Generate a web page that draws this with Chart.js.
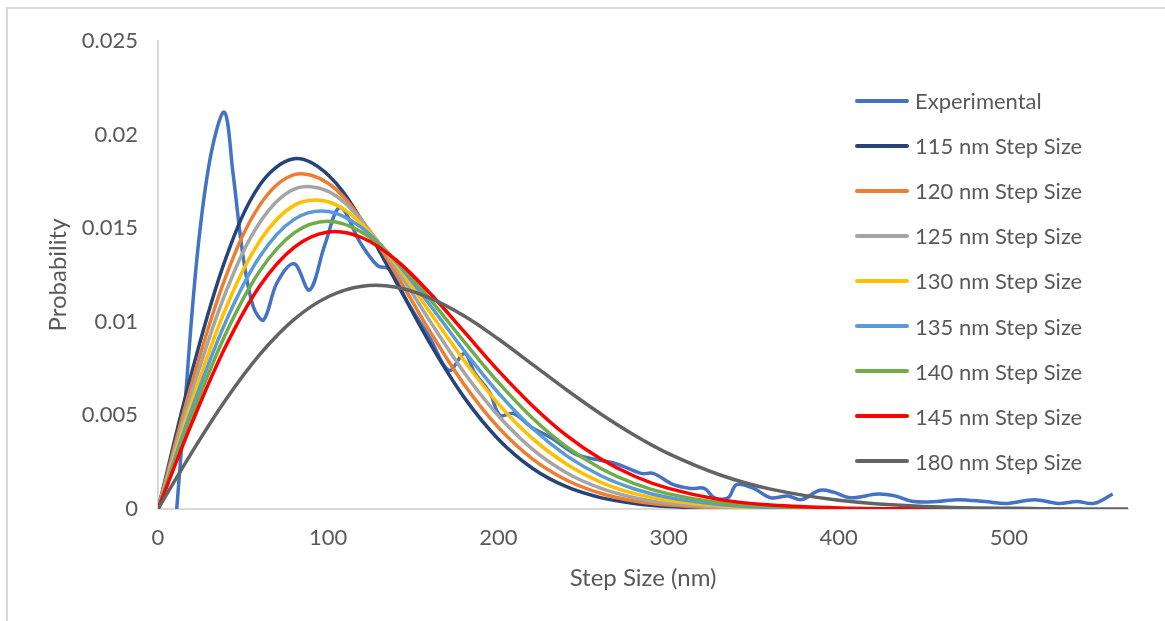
<!DOCTYPE html>
<html>
<head>
<meta charset="utf-8">
<title>Step Size Distribution</title>
<script src="https://cdn.jsdelivr.net/npm/chart.js@4.4.1/dist/chart.umd.min.js"></script>
<style>
    body { margin: 0; background: #fff; }
    #wrap { position: relative; width: 1165px; height: 621px; overflow: hidden; font-family: Lato, "Open Sans", sans-serif; }
    #frame { position: absolute; left: 6px; top: 7px; width: 1300px; height: 800px; border-left: 2px solid #d9d9d9; border-top: 2px solid #d9d9d9; }
    #chart { position: absolute; left: 0; top: 0; }
    #legend { position: absolute; left: 855px; top: 78px; }
    .item { height: 45.1px; display: flex; align-items: center; color: #595959; font-size: 22px; white-space: nowrap; }
    .swatch { width: 54px; height: 4px; margin-right: 6px; border-radius: 2px; }
</style>
</head>
<body>
<div id="wrap">
    <div id="frame"></div>
    <canvas id="chart" width="1165" height="621"></canvas>
    <div id="legend"></div>
</div>
<script>
// Experimental step-size histogram (smoothed)
const expX = [11, 15, 23, 31, 39, 44, 50, 56, 62, 70, 80, 89, 98, 107, 119, 129, 136, 147, 160, 171,
              180, 186, 195, 201, 209, 219, 231, 246, 260, 270, 284, 291, 303, 313, 321, 327, 335, 340, 350, 360,
              370, 378, 389, 397, 407, 423, 433, 444, 458, 470, 486, 499, 515, 529, 540, 550, 561];
const expY = [0, 0.0046, 0.0135, 0.0189, 0.0212, 0.0180, 0.0135, 0.0108, 0.0101, 0.0121,
              0.0131, 0.0117, 0.0141, 0.0161, 0.0142, 0.0130, 0.0128, 0.0110, 0.0091, 0.0074,
              0.0083, 0.0073, 0.0062, 0.0050, 0.0051, 0.0044, 0.0038, 0.0029, 0.0026, 0.0024,
              0.0019, 0.0019, 0.0013, 0.0011, 0.0011, 0.0006, 0.0006, 0.0013, 0.0011, 0.0006,
              0.0007, 0.0005, 0.0010, 0.0009, 0.0006, 0.0008, 0.0007, 0.0004, 0.0004, 0.0005,
              0.0004, 0.0003, 0.0005, 0.0003, 0.0004, 0.0003, 0.0008];

// Simulated curves, sampled on a shared step-size grid
const fitX = [0, 20, 40, 60, 80, 100, 120, 140, 160, 180, 200, 220, 240, 260, 280, 300, 330, 360, 400, 450, 520, 570];
const s115 = [0, 0.00735, 0.01343, 0.01733, 0.01871, 0.01784, 0.01537, 0.01212, 0.00882, 0.00595, 0.00373, 0.00218, 0.00119, 0.00061, 0.00029, 0.00013, 0.00003, 0.00001, 0, 0, 0];
const s120 = [0, 0.00676, 0.01245, 0.01626, 0.01786, 0.01740, 0.01540, 0.01254, 0.00946, 0.00664, 0.00436, 0.00268, 0.00155, 0.00084, 0.00043, 0.00021, 0.00006, 0.00002, 0, 0, 0];
const s125 = [0, 0.00627, 0.01162, 0.01533, 0.01709, 0.01697, 0.01536, 0.01285, 0.01001, 0.00728, 0.00498, 0.00320, 0.00194, 0.00111, 0.00060, 0.00030, 0.00010, 0.00003, 0.00001, 0, 0];
const s130 = [0, 0.00577, 0.01075, 0.01434, 0.01622, 0.01641, 0.01520, 0.01306, 0.01048, 0.00791, 0.00562, 0.00377, 0.00240, 0.00144, 0.00082, 0.00045, 0.00016, 0.00005, 0.00001, 0, 0];
const s135 = [0, 0.00536, 0.01004, 0.01351, 0.01547, 0.01589, 0.01500, 0.01319, 0.01087, 0.00844, 0.00620, 0.00431, 0.00285, 0.00179, 0.00107, 0.00061, 0.00024, 0.00008, 0.00002, 0, 0];
const s140 = [0, 0.00499, 0.00940, 0.01274, 0.01475, 0.01537, 0.01477, 0.01325, 0.01119, 0.00893, 0.00676, 0.00486, 0.00333, 0.00218, 0.00136, 0.00081, 0.00034, 0.00013, 0.00003, 0, 0];
const s145 = [0, 0.00461, 0.00873, 0.01194, 0.01398, 0.01480, 0.01449, 0.01329, 0.01151, 0.00946, 0.00739, 0.00552, 0.00393, 0.00268, 0.00175, 0.00110, 0.00050, 0.00021, 0.00006, 0.00001, 0];
const s180 = [0, 0.00304, 0.00586, 0.00827, 0.01013, 0.01134, 0.01190, 0.01185, 0.01127, 0.01031, 0.00908, 0.00773, 0.00637, 0.00509, 0.00394, 0.00296, 0.00183, 0.00106, 0.00047, 0.00014, 0.00002, 0];

const seriesNames = ['Experimental', '115 nm Step Size', '120 nm Step Size', '125 nm Step Size', '130 nm Step Size',
                     '135 nm Step Size', '140 nm Step Size', '145 nm Step Size', '180 nm Step Size'];
const seriesColors = ['#4472C4', '#264478', '#ED7D31', '#A5A5A5', '#FFC000', '#5B9BD5', '#70AD47', '#FF0000', '#636363'];

const yTicks = [0, 0.005, 0.01, 0.015, 0.02, 0.025];
const xTicks = [0, 100, 200, 300, 400, 500];

function toPoints(xs, ys) {
    return ys.map((y, i) => ({ x: xs[i], y: y }));
}

const seriesPoints = [
    toPoints(expX, expY),
    toPoints(fitX, s115),
    toPoints(fitX, s120),
    toPoints(fitX, s125),
    toPoints(fitX, s130),
    toPoints(fitX, s135),
    toPoints(fitX, s140),
    toPoints(fitX, s145),
    toPoints(fitX, s180)
];

const textColor = '#595959';
Chart.defaults.font.family = 'Lato, "Open Sans", sans-serif';
Chart.defaults.color = textColor;

new Chart(document.getElementById('chart'), {
    type: 'scatter',
    data: {
        datasets: seriesPoints.map((pts, i) => ({
            label: seriesNames[i],
            data: pts,
            showLine: true,
            borderColor: seriesColors[i],
            backgroundColor: seriesColors[i],
            borderWidth: 3.5,
            pointRadius: 0,
            tension: 0.35,
            // later series sit on top, like the spreadsheet
            order: seriesNames.length - i
        }))
    },
    options: {
        responsive: false,
        animation: false,
        layout: { padding: { left: 0, top: 41, right: 37, bottom: 0 } },
        plugins: {
            legend: { display: false },
            tooltip: { enabled: false }
        },
        scales: {
            x: {
                type: 'linear',
                min: 0,
                max: 570,
                afterFit: (scale) => { scale.height = 112; },
                afterBuildTicks: (scale) => { scale.ticks = xTicks.map(v => ({ value: v })); },
                grid: { display: false, drawTicks: false },
                border: { display: true, color: '#D9D9D9', width: 2 },
                ticks: { padding: 16, font: { size: 22 }, color: textColor },
                title: {
                    display: true,
                    text: 'Step Size (nm)',
                    font: { size: 24 },
                    color: textColor,
                    padding: { top: 0, bottom: 28 }
                }
            },
            y: {
                min: 0,
                max: 0.025,
                afterFit: (scale) => { scale.width = 158; },
                afterBuildTicks: (scale) => { scale.ticks = yTicks.map(v => ({ value: v })); },
                grid: { display: false, drawTicks: false },
                border: { display: true, color: '#D9D9D9', width: 2 },
                ticks: {
                    padding: 20,
                    font: { size: 22 },
                    color: textColor,
                    callback: (v) => String(+v.toFixed(3))
                },
                title: {
                    display: true,
                    text: 'Probability',
                    font: { size: 24 },
                    color: textColor,
                    padding: { top: 44, bottom: 0 }
                }
            }
        }
    }
});

// Legend sits inside the plot area, as in the original
const legend = document.getElementById('legend');
seriesNames.forEach((name, i) => {
    const row = document.createElement('div');
    row.className = 'item';
    const swatch = document.createElement('span');
    swatch.className = 'swatch';
    swatch.style.background = seriesColors[i];
    row.appendChild(swatch);
    row.appendChild(document.createTextNode(name));
    legend.appendChild(row);
});
</script>
</body>
</html>
